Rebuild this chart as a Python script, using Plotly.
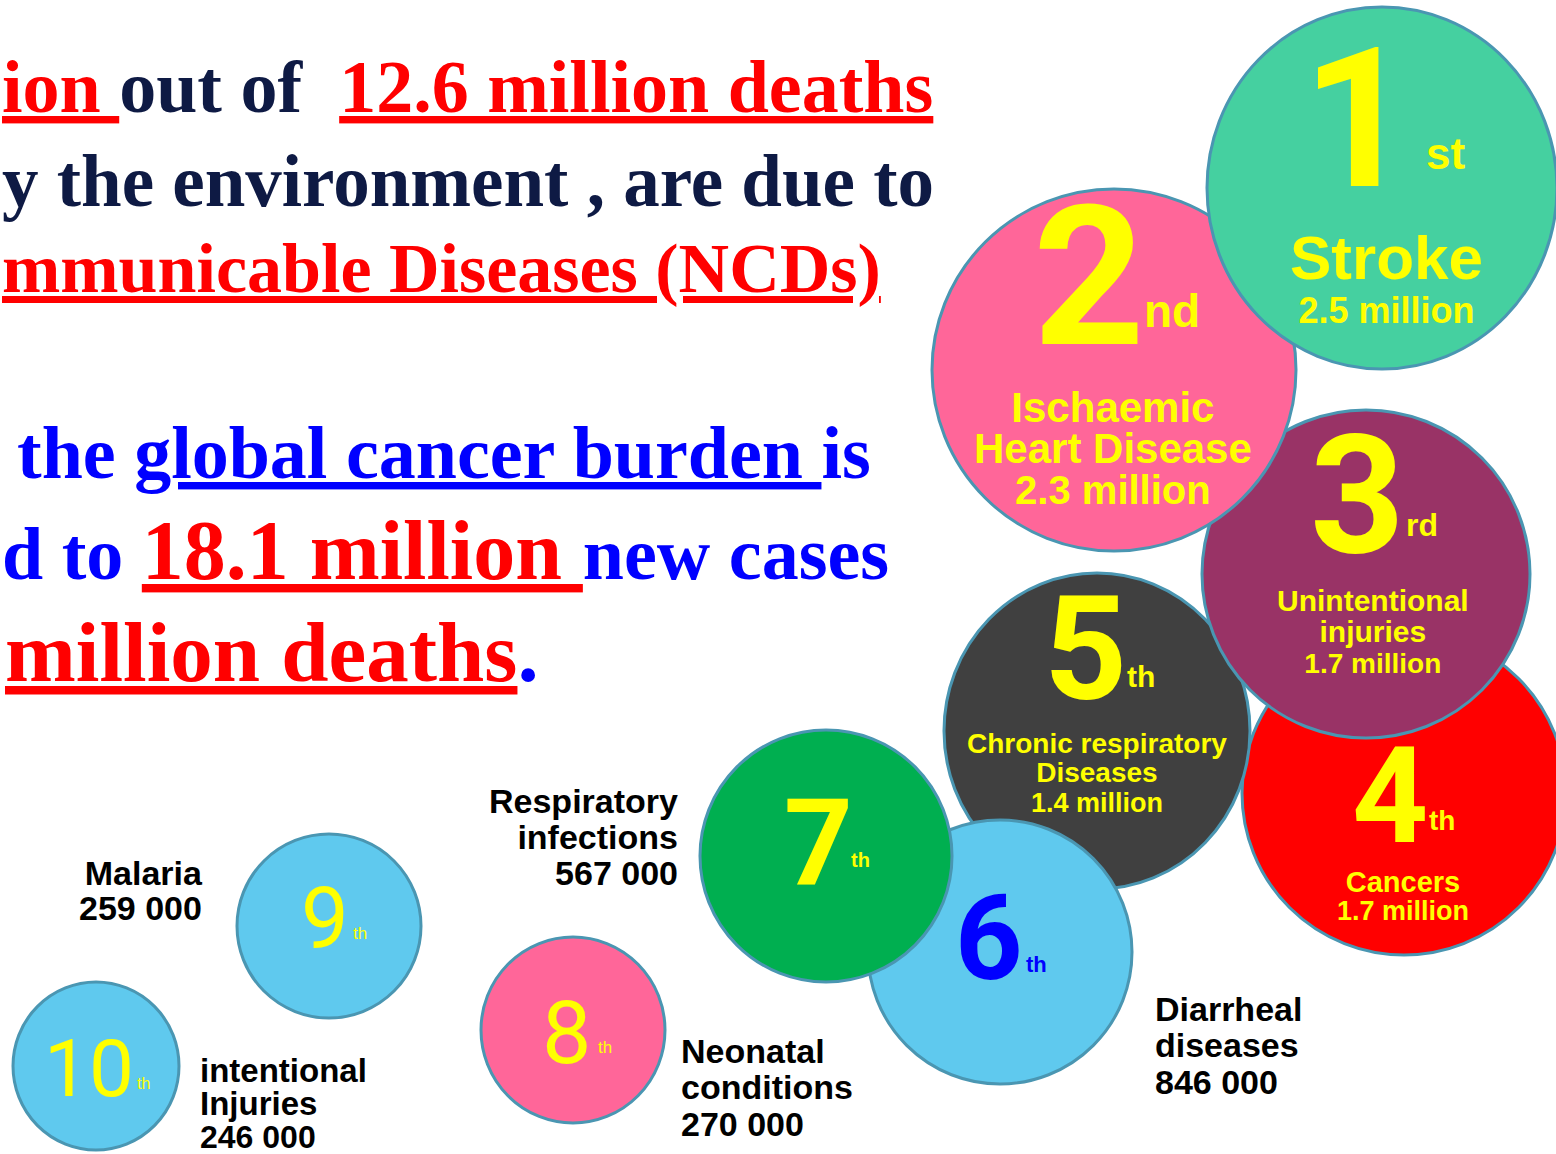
import plotly.graph_objects as go

# ---------------- data ----------------
ranks = [1, 2, 3, 4, 5, 6, 7, 8, 9, 10]
suffixes = ["st", "nd", "rd", "th", "th", "th", "th", "th", "th", "th"]
causes = ["Stroke", "Ischaemic<br>Heart Disease", "Unintentional<br>injuries", "Cancers",
          "Chronic respiratory<br>Diseases", "Diarrheal<br>diseases", "Respiratory<br>infections",
          "Neonatal<br>conditions", "Malaria", "intentional<br>Injuries"]
deaths = ["2.5 million", "2.3 million", "1.7 million", "1.7 million", "1.4 million",
          "846 000", "567 000", "270 000", "259 000", "246 000"]

# ---------------- layout / styles ----------------
fill_colors = ["#45D0A0", "#FF6699", "#993366", "#FF0000", "#404040",
               "#5FC9EE", "#00AF50", "#FF6699", "#5FC9EE", "#5FC9EE"]
# circle centre & radii (pixel-space axes)
cx = [1382, 1114, 1366, 1404, 1097, 1000, 826, 573, 329, 96]
cy = [188, 370, 574, 793, 731, 952, 856, 1030, 926, 1066]
rx = [175, 182, 164, 162, 153, 132, 126, 92, 92, 83]
ry = [181, 181, 164, 162, 158, 132, 126, 93, 92, 84]
draw_order = [3, 4, 2, 1, 0, 5, 6, 7, 8, 9]

num_x = [1358, 1089, 1357, 1390, 1085, 989, 818, 566, 325, 89]
num_y = [119, 277, 495, 796, 649, 939, 844, 1032, 919, 1069]
num_size = [195, 195, 165, 133, 145, 118, 120, 88, 85, 80]
num_bold = [True] * 7 + [False] * 3
num_color = ["#FFFF00"] * 5 + ["#0000FF"] + ["#FFFF00"] * 4
suf_x = [1445, 1172, 1422, 1442, 1141, 1036, 860, 605, 360, 143]
suf_y = [153, 311, 525, 820, 676, 964, 860, 1047, 933, 1083]
suf_size = [44, 46, 32, 28, 30, 22, 20, 17, 17, 16]

# label blocks: anchor x, anchor side, block centre y, line-spacing font, per-line glyph sizes
label_blocks = {
    0: (1386, "center", 277, 34.0, [62, 36]),
    1: (1113, "center", 448, 31.7, [42, 42, 40]),
    2: (1373, "center", 631, 24.0, [30, 30, 28]),
    3: (1403, "center", 896, 21.8, [29, 27]),
    4: (1097, "center", 773, 22.6, [28, 28, 27]),
    6: (680, "right", 837, 27.5, [34, 34, 34]),
    8: (205, "right", 890, 27.0, [34, 34]),
    9: (198, "left", 1103, 25.5, [33, 33, 32]),
    7: (679, "left", 1087, 28.0, [34, 34, 34]),
    5: (1153, "left", 1045, 28.0, [34, 34, 34]),
}

YELLOW = "#FFFF00"
SANS = "Liberation Sans, Arial, sans-serif"
ROUND = "Roboto, Liberation Sans, Arial, sans-serif"
SERIF = "Liberation Serif, Times New Roman, serif"
NAVY = "#0E1A44"
RED = "#FF0000"
BLUE = "#0000FF"

fig = go.Figure()
fig.add_trace(go.Scatter(x=[0, 1556], y=[0, 1154], mode="markers",
                         marker=dict(opacity=0), hoverinfo="skip", showlegend=False))

shapes = []
for i in draw_order:
    shapes.append(dict(type="circle", xref="x", yref="y",
                       x0=cx[i] - rx[i], x1=cx[i] + rx[i],
                       y0=cy[i] - ry[i], y1=cy[i] + ry[i],
                       fillcolor=fill_colors[i],
                       line=dict(color="#4A96B2", width=3), layer="above"))

ann = []


def txt(x, y, text, size, color, family=SANS, bold=True, xanchor="center"):
    ann.append(dict(x=x, y=y, xref="x", yref="y", text=text, showarrow=False,
                    xanchor=xanchor, yanchor="middle", align=xanchor if xanchor != "center" else "center",
                    font=dict(size=size, color=color, family=family,
                              weight="bold" if bold else "normal")))


for i in range(10):
    txt(num_x[i], num_y[i], str(ranks[i]), num_size[i], num_color[i], family=ROUND, bold=num_bold[i])
    txt(suf_x[i], suf_y[i], suffixes[i], suf_size[i], num_color[i], bold=num_bold[i])


def lines(idx):
    return causes[idx].split("<br>") + [deaths[idx]]


for idx, (x, anc, yc, base, sizes) in label_blocks.items():
    color = YELLOW if idx <= 4 else "#000000"
    body = "<br>".join(f"<span style='font-size:{s}px'>{t}</span>" for t, s in zip(lines(idx), sizes))
    txt(x, yc, body, base, color, xanchor=anc)


# headline text
def span(t, c, u=False):
    inner = f"<u>{t}</u>" if u else t
    return f"<span style='color:{c}'>{inner}</span>"


txt(0, 87, span("ion ", RED, True) + span("out of &nbsp;", NAVY) + span("12.6 million deaths", RED, True),
    74, NAVY, family=SERIF, xanchor="left")
txt(0, 181, span("y the environment , are due to", NAVY), 73, NAVY, family=SERIF, xanchor="left")
txt(0, 268, span("mmunicable Diseases (NCDs)", RED, True), 70, RED, family=SERIF, xanchor="left")
txt(15, 453, span("the ", BLUE) + span("global cancer burden ", BLUE, True) + span("is", BLUE),
    74, BLUE, family=SERIF, xanchor="left")
txt(0, 550, span("d to ", BLUE) + f"<span style='color:{RED};font-size:84px'><u>18.1 million </u></span>"
    + span("new cases", BLUE), 74, BLUE, family=SERIF, xanchor="left")
txt(3, 652, span("<u>million deaths</u>", RED) + span(".", BLUE), 85, RED, family=SERIF, xanchor="left")

fig.update_layout(
    width=1556, height=1154,
    margin=dict(l=0, r=0, t=0, b=0),
    paper_bgcolor="white", plot_bgcolor="white",
    xaxis=dict(range=[0, 1556], visible=False, fixedrange=True),
    yaxis=dict(range=[1154, 0], visible=False, fixedrange=True),
    shapes=shapes, annotations=ann, showlegend=False,
)

fig.write_html("out.html", config=dict(displayModeBar=False),
               post_script="document.body.style.margin='0';document.body.style.overflow='hidden';")
